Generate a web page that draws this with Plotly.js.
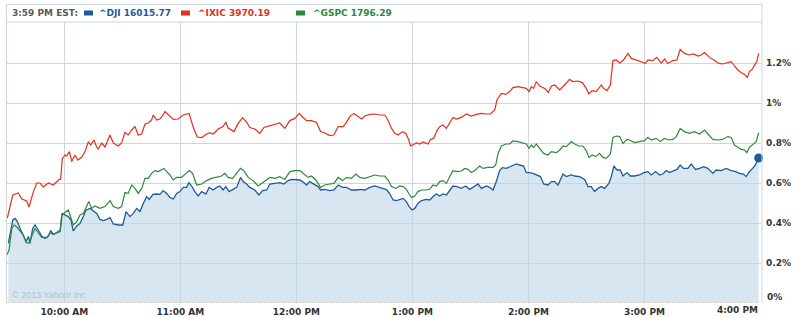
<!DOCTYPE html>
<html>
<head>
<meta charset="utf-8">
<script src="https://cdn.plot.ly/plotly-3.0.1.min.js"></script>
<style>
  html, body { margin: 0; padding: 0; background: #fff; }
  #chart { width: 800px; height: 318px; }
</style>
</head>
<body>
<div id="chart"></div>
<script>
// ---- Data (minutes after 9:30 AM open, % change) ----
const ixicMin = [0.5,1.9,3.3,6.2,8.0,10.5,11.7,14.0,15.7,17.4,19.1,21.7,24.3,26.9,28.1,28.9,30.3,31.2,32.6,33.8,35.5,36.9,39.0,40.7,42.4,43.6,45.3,46.7,47.5,49.3,51.0,52.2,53.6,55.3,57.9,59.6,61.3,63.0,64.8,66.5,68.2,70.0,71.7,73.4,75.1,76.0,77.7,79.4,81.1,82.0,83.7,86.3,88.9,91.5,94.5,96.6,98.7,101.0,103.6,105.3,107.0,109.6,112.1,113.5,114.7,117.7,119.9,122.2,124.2,125.9,128.5,131.1,133.2,136.3,138.9,141.4,144.0,146.6,149.2,151.4,153.2,155.2,157.8,160.4,162.5,164.7,167.3,169.4,171.6,174.2,175.9,177.6,179.7,181.9,183.7,185.4,188.0,190.5,193.1,195.7,197.4,199.2,200.9,202.6,204.9,206.6,207.8,209.1,210.3,212.1,213.8,215.5,218.1,219.3,221.0,222.7,224.1,225.8,227.6,229.3,231.0,232.8,235.3,237.9,240.5,243.1,245.7,248.3,250.3,252.6,253.7,256.0,258.3,260.3,262.0,264.6,267.2,268.9,270.3,271.5,272.7,274.1,275.8,278.4,280.3,281.9,283.6,286.2,288.7,291.3,293.0,295.6,297.9,299.9,301.3,303.0,305.1,307.7,308.9,310.6,312.4,313.7,315.5,317.2,319.2,321.5,323.2,325.8,328.4,330.6,331.8,334.4,336.4,338.7,340.4,342.1,344.7,346.8,348.5,350.7,353.3,355.4,357.6,359.4,361.1,363.7,366.3,368.5,370.5,372.6,374.9,376.6,378.3,380.0,381.8,383.2,384.3,385.7,386.9,388.1,389.1];
const ixicPct = [0.425,0.48,0.54,0.55,0.52,0.51,0.48,0.557,0.60,0.60,0.58,0.60,0.59,0.615,0.62,0.72,0.74,0.735,0.757,0.707,0.74,0.715,0.73,0.757,0.807,0.79,0.815,0.78,0.77,0.80,0.78,0.807,0.84,0.80,0.785,0.80,0.853,0.84,0.865,0.882,0.84,0.845,0.895,0.90,0.915,0.94,0.915,0.92,0.94,0.957,0.94,0.918,0.92,0.94,0.948,0.88,0.83,0.827,0.845,0.852,0.845,0.87,0.882,0.905,0.875,0.857,0.898,0.927,0.905,0.877,0.87,0.848,0.878,0.885,0.893,0.90,0.873,0.912,0.923,0.948,0.93,0.912,0.912,0.903,0.857,0.85,0.837,0.84,0.882,0.882,0.903,0.932,0.948,0.93,0.92,0.935,0.943,0.945,0.94,0.94,0.915,0.873,0.848,0.84,0.857,0.848,0.823,0.785,0.79,0.80,0.795,0.805,0.795,0.818,0.823,0.862,0.882,0.89,0.873,0.898,0.928,0.92,0.928,0.945,0.935,0.943,0.948,0.945,0.945,0.965,1.015,1.048,1.043,1.057,1.077,1.082,1.078,1.073,1.057,1.082,1.073,1.107,1.085,1.073,1.053,1.085,1.09,1.065,1.09,1.118,1.107,1.11,1.102,1.073,1.045,1.062,1.057,1.09,1.073,1.062,1.09,1.212,1.215,1.20,1.215,1.248,1.223,1.215,1.207,1.198,1.215,1.212,1.228,1.20,1.22,1.198,1.212,1.215,1.268,1.248,1.24,1.245,1.235,1.24,1.252,1.228,1.212,1.198,1.195,1.20,1.207,1.185,1.165,1.153,1.143,1.128,1.157,1.168,1.19,1.207,1.248];

const gspcMin = [0.2,1.4,2.8,4.0,5.4,7.1,8.8,10.2,11.9,13.1,14.8,16.5,18.3,20.9,22.6,24.3,26.0,27.8,28.6,30.3,32.0,32.9,34.6,36.4,38.1,39.8,41.6,42.6,44.1,45.8,48.4,51.0,53.6,55.3,57.9,59.6,61.3,63.0,64.8,66.5,68.2,70.0,71.7,73.4,75.1,76.8,78.6,80.3,81.5,82.9,84.6,86.3,88.1,90.6,92.4,94.6,96.3,98.4,101.0,103.6,106.1,108.7,111.3,113.0,114.7,117.0,119.1,121.1,122.8,125.1,127.6,130.2,132.0,134.6,136.3,138.9,141.4,144.0,146.6,149.2,151.8,153.9,156.1,157.8,160.1,162.5,164.7,167.3,169.4,171.6,173.9,175.9,178.5,180.7,182.8,185.4,188.0,190.5,193.1,195.7,197.4,199.2,201.4,203.5,205.2,206.9,208.3,209.5,211.2,212.9,214.7,217.2,219.0,220.7,222.4,224.1,225.8,227.6,229.3,231.0,233.1,235.3,237.1,238.8,240.5,242.2,244.8,246.5,249.1,251.7,253.1,254.3,256.0,258.3,260.3,262.0,264.6,267.2,268.9,270.3,271.5,272.7,274.1,275.8,277.9,280.1,281.9,284.5,286.2,287.9,289.6,292.2,293.9,296.1,298.2,299.9,301.3,303.0,304.8,306.8,308.5,310.3,312.4,313.7,315.5,317.2,318.9,321.0,322.3,324.9,327.5,330.1,331.8,333.5,336.1,338.2,340.4,342.6,344.7,346.5,348.5,350.7,353.3,355.9,358.5,361.1,363.3,365.4,368.0,370.5,373.1,374.9,376.6,378.3,380.0,381.8,383.0,384.3,386.0,387.8,389.1];
const gspcPct = [0.24,0.265,0.373,0.39,0.38,0.357,0.34,0.302,0.30,0.333,0.373,0.35,0.328,0.328,0.35,0.343,0.353,0.365,0.44,0.452,0.465,0.44,0.39,0.407,0.44,0.448,0.49,0.507,0.473,0.485,0.473,0.482,0.512,0.482,0.473,0.482,0.552,0.548,0.59,0.573,0.548,0.573,0.623,0.623,0.648,0.662,0.657,0.665,0.673,0.657,0.64,0.615,0.628,0.628,0.645,0.662,0.648,0.59,0.595,0.612,0.623,0.628,0.635,0.648,0.628,0.623,0.648,0.673,0.662,0.628,0.612,0.585,0.598,0.615,0.628,0.623,0.632,0.618,0.657,0.662,0.662,0.645,0.628,0.635,0.615,0.578,0.59,0.595,0.598,0.628,0.612,0.628,0.623,0.645,0.628,0.623,0.632,0.64,0.635,0.635,0.615,0.582,0.573,0.585,0.582,0.568,0.545,0.528,0.535,0.557,0.565,0.565,0.57,0.59,0.585,0.607,0.612,0.598,0.632,0.662,0.657,0.66,0.673,0.668,0.652,0.662,0.685,0.673,0.678,0.678,0.69,0.748,0.785,0.795,0.795,0.81,0.807,0.80,0.795,0.773,0.79,0.778,0.795,0.773,0.748,0.74,0.757,0.752,0.765,0.785,0.782,0.807,0.795,0.785,0.785,0.762,0.728,0.74,0.732,0.748,0.728,0.723,0.745,0.828,0.835,0.832,0.798,0.818,0.815,0.802,0.807,0.812,0.828,0.815,0.823,0.807,0.823,0.815,0.818,0.832,0.873,0.857,0.848,0.857,0.845,0.865,0.84,0.818,0.815,0.818,0.832,0.828,0.79,0.778,0.768,0.765,0.752,0.778,0.79,0.807,0.852];

const djiMin = [1.0,1.9,3.3,4.5,5.7,7.1,8.8,10.2,11.4,12.2,13.6,14.8,16.5,18.3,20.0,21.7,22.9,24.3,26.0,27.8,28.9,30.3,32.0,33.4,34.6,36.4,38.1,39.8,41.2,43.3,45.0,46.7,48.4,50.1,51.9,53.6,55.3,57.9,60.2,61.9,63.9,65.6,67.4,69.1,70.8,72.6,73.9,75.8,77.7,79.4,81.1,82.9,84.6,86.3,88.1,89.8,91.5,93.2,94.4,95.8,97.5,99.2,101.0,103.2,104.9,107.0,108.7,110.4,112.1,113.5,115.2,117.0,119.1,121.1,122.5,124.2,125.9,128.5,130.6,132.5,134.6,136.3,138.9,141.4,143.5,145.7,147.5,149.7,151.8,153.9,155.2,156.9,159.0,161.2,162.5,164.7,167.3,169.4,171.6,173.9,175.9,178.5,181.1,183.2,185.4,188.0,190.5,193.1,194.8,196.6,198.3,200.0,201.8,203.5,205.2,206.9,208.3,209.8,211.2,212.9,214.7,217.2,219.0,220.7,222.4,224.1,225.8,227.6,229.3,231.0,233.1,235.3,237.6,239.6,241.3,243.9,245.7,248.3,250.0,251.7,253.4,255.1,256.5,258.6,261.2,263.8,265.5,267.5,268.9,270.6,272.3,274.1,276.2,277.9,280.1,281.9,283.6,285.3,287.9,289.6,292.2,293.9,296.5,299.1,300.8,302.5,304.2,306.0,307.7,309.4,311.6,312.9,314.2,315.8,317.5,318.9,321.0,322.7,324.9,327.5,329.6,331.8,333.5,335.8,337.8,339.5,341.3,343.0,345.1,346.8,348.5,350.2,352.5,354.2,356.4,358.5,360.6,362.8,365.4,367.1,369.7,372.3,374.9,377.1,379.2,381.2,382.6,384.3,386.0,387.4,389.1];
const djiPct = [0.298,0.35,0.415,0.423,0.407,0.373,0.34,0.307,0.333,0.298,0.373,0.39,0.365,0.333,0.323,0.333,0.362,0.343,0.35,0.357,0.448,0.44,0.432,0.415,0.36,0.385,0.398,0.432,0.465,0.473,0.462,0.448,0.418,0.412,0.418,0.427,0.395,0.39,0.39,0.457,0.432,0.448,0.473,0.457,0.498,0.532,0.518,0.543,0.545,0.543,0.562,0.548,0.528,0.52,0.548,0.557,0.578,0.578,0.602,0.585,0.557,0.535,0.557,0.545,0.578,0.565,0.578,0.585,0.565,0.582,0.557,0.568,0.578,0.628,0.607,0.595,0.578,0.565,0.54,0.562,0.565,0.595,0.598,0.602,0.595,0.612,0.618,0.618,0.615,0.602,0.59,0.607,0.595,0.582,0.565,0.568,0.562,0.565,0.59,0.578,0.578,0.565,0.565,0.568,0.565,0.578,0.585,0.578,0.573,0.567,0.546,0.515,0.512,0.518,0.523,0.507,0.482,0.465,0.473,0.498,0.512,0.518,0.515,0.532,0.545,0.535,0.545,0.54,0.565,0.585,0.582,0.573,0.585,0.568,0.578,0.595,0.573,0.585,0.578,0.565,0.607,0.662,0.677,0.673,0.685,0.695,0.69,0.685,0.652,0.652,0.648,0.64,0.632,0.595,0.59,0.607,0.607,0.59,0.645,0.632,0.64,0.635,0.632,0.618,0.582,0.582,0.557,0.573,0.582,0.573,0.598,0.632,0.685,0.665,0.665,0.635,0.652,0.635,0.635,0.64,0.652,0.657,0.64,0.657,0.64,0.645,0.662,0.652,0.662,0.668,0.69,0.673,0.673,0.695,0.668,0.673,0.682,0.673,0.648,0.665,0.662,0.673,0.662,0.657,0.648,0.645,0.632,0.657,0.673,0.69,0.725];

const hourTicks = [30, 90, 150, 210, 270, 330];
const hourLabels = ["10:00 AM", "11:00 AM", "12:00 PM", "1:00 PM", "2:00 PM", "3:00 PM"];
const closeTick = 390;
const closeLabel = "4:00 PM";
const pctTicks = [0.2, 0.4, 0.6, 0.8, 1.0, 1.2];
const pctLabels = ["0.2%", "0.4%", "0.6%", "0.8%", "1%", "1.2%"];
const asOf = "3:59 PM EST:";
const symbols = ["^DJI", "^IXIC", "^GSPC"];
const lastPrices = ["16015.77", "3970.19", "1796.29"];

// ---- Styling ----
const BLUE = '#1f5b99', RED = '#e3301c', GREEN = '#2b8a3b';
const GRID = '#cbd7e0';
const FONT = 'DejaVu Sans, Verdana, sans-serif';

// plot area in pixels: left 6, right 761, top 22, bottom 303
const L = 6, R = 39, T = 22, B = 15, W = 800, H = 318;
const PW = W - L - R, PH = H - T - B;
const px = x => (x - L) / PW;           // page x -> paper x
const py = y => (H - B - y) / PH;       // page y -> paper y

const traces = [
  { x: djiMin, y: djiPct, type: 'scatter', mode: 'lines', fill: 'tozeroy',
    fillcolor: 'rgba(190,214,232,0.62)', line: { color: BLUE, width: 1.3 }, hoverinfo: 'skip' },
  { x: gspcMin, y: gspcPct, type: 'scatter', mode: 'lines',
    line: { color: GREEN, width: 1.2 }, hoverinfo: 'skip' },
  { x: ixicMin, y: ixicPct, type: 'scatter', mode: 'lines',
    line: { color: RED, width: 1.2 }, hoverinfo: 'skip' },
  { x: [djiMin[djiMin.length - 1]], y: [djiPct[djiPct.length - 1]], type: 'scatter', mode: 'markers',
    marker: { color: BLUE, size: 9 }, hoverinfo: 'skip', cliponaxis: false }
];

const legendColors = [BLUE, RED, GREEN];
const squareX = [84, 181, 296];
const textX = [97, 196, 311];

const annotations = [
  { xref: 'paper', yref: 'paper', x: px(10), y: py(13), xanchor: 'left', yanchor: 'middle',
    text: '<b>' + asOf + '</b>', showarrow: false, font: { family: FONT, size: 9, color: '#5a5a5a' } },
  { xref: 'paper', yref: 'paper', x: px(10), y: py(295), xanchor: 'left', yanchor: 'middle',
    text: '© 2013 Yahoo! Inc.', showarrow: false, font: { family: 'Liberation Sans, Arial, sans-serif', size: 9, color: '#b4c0ca' } },
  { xref: 'x', yref: 'paper', x: closeTick, y: py(310), xanchor: 'right', yanchor: 'middle',
    text: '<b>' + closeLabel + '</b>', showarrow: false, font: { family: FONT, size: 9, color: '#333' } },
  { xref: 'paper', yref: 'y', x: 1, y: 0, xanchor: 'left', yanchor: 'middle', xshift: 4, yshift: 6,
    text: '<b>0%</b>', showarrow: false, font: { family: FONT, size: 9, color: '#333' } }
];
const shapes = [
  // outer frame (top, left, right) and header separator
  { type: 'line', xref: 'paper', yref: 'paper', x0: px(6.5), x1: px(762), y0: py(4.5), y1: py(4.5), line: { color: GRID, width: 1 } },
  { type: 'line', xref: 'paper', yref: 'paper', x0: px(6.5), x1: px(6.5), y0: py(4.5), y1: 0, line: { color: GRID, width: 1 } },
  { type: 'line', xref: 'paper', yref: 'paper', x0: px(762), x1: px(762), y0: py(4.5), y1: 0, line: { color: GRID, width: 1 } },
  { type: 'line', xref: 'paper', yref: 'paper', x0: px(6.5), x1: px(762), y0: 1, y1: 1, line: { color: GRID, width: 1 } },
  // previous close line
  { type: 'line', xref: 'paper', yref: 'y', x0: 0, x1: 1, y0: 0, y1: 0, line: { color: '#e7b79a', width: 1, dash: 'dot' } }
];
symbols.forEach((s, i) => {
  annotations.push({ xref: 'paper', yref: 'paper', x: px(textX[i]), y: py(13), xanchor: 'left', yanchor: 'middle',
    text: '<b>' + s + ' ' + lastPrices[i] + '</b>', showarrow: false,
    font: { family: FONT, size: 9, color: legendColors[i] } });
  shapes.push({ type: 'rect', xref: 'paper', yref: 'paper', x0: px(squareX[i]), x1: px(squareX[i] + 9),
    y0: py(15.5), y1: py(10.5), fillcolor: legendColors[i], line: { width: 0 } });
});

const layout = {
  width: W, height: H,
  margin: { l: L, r: R, t: T, b: B, pad: 0 },
  paper_bgcolor: '#fff', plot_bgcolor: '#fff',
  showlegend: false,
  font: { family: FONT, size: 9, color: '#333' },
  xaxis: {
    range: [-0.2, 390.3], tickvals: hourTicks.concat([closeTick]), ticktext: hourLabels.map(t => '<b>' + t + '</b>').concat(['']),
    showgrid: true, gridcolor: GRID, gridwidth: 1, zeroline: false, showline: false,
    ticks: '', ticklabelstandoff: 2, fixedrange: true
  },
  yaxis: {
    side: 'right', range: [0, 1.405], tickvals: pctTicks, ticktext: pctLabels.map(t => '<b>' + t + '</b>'),
    showgrid: true, gridcolor: GRID, gridwidth: 1, zeroline: false, showline: false,
    ticks: '', ticklabelstandoff: 4, fixedrange: true
  },
  annotations: annotations,
  shapes: shapes
};

Plotly.newPlot('chart', traces, layout, { staticPlot: true, displayModeBar: false });
</script>
</body>
</html>
